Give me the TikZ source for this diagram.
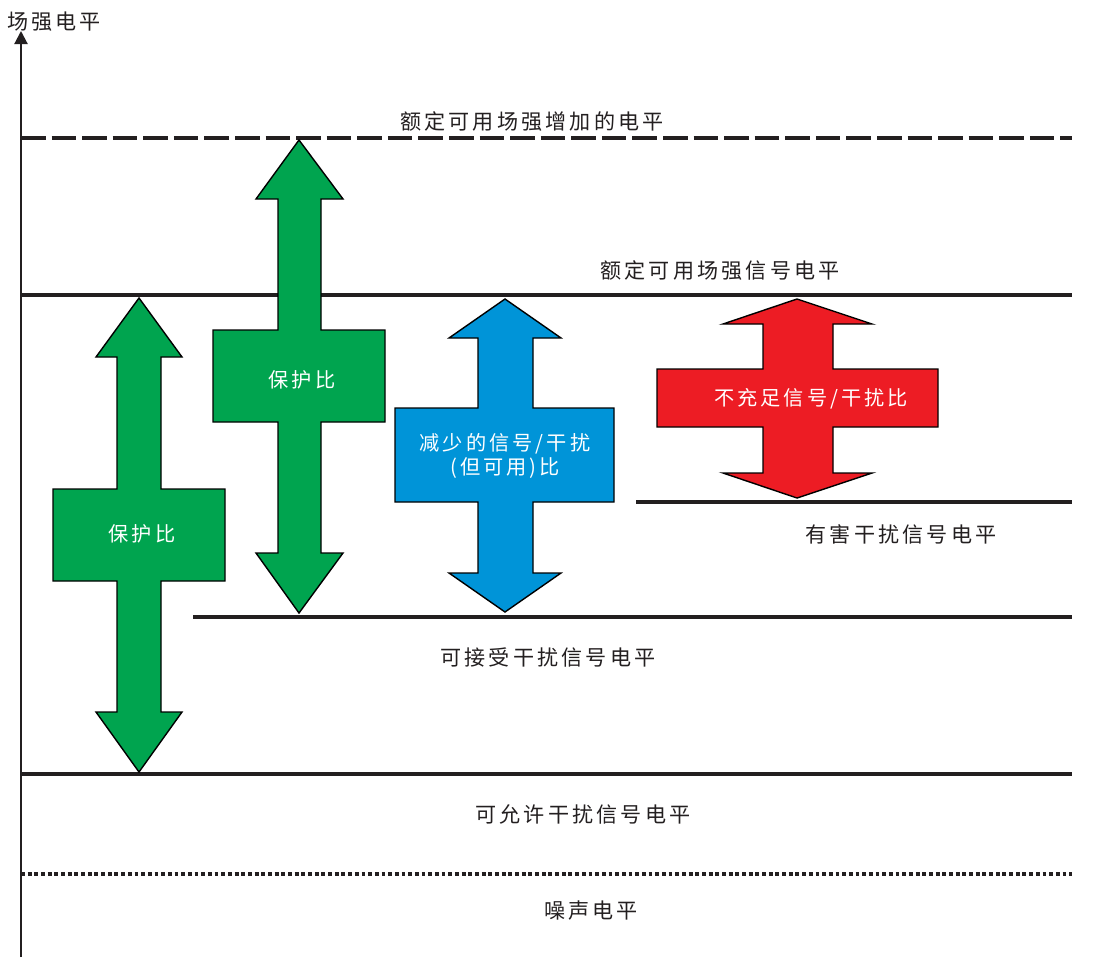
\documentclass[tikz,border=0pt]{standalone}
\usepackage{fontspec}
\newfontfamily\cjk[LetterSpace=15]{Noto Sans CJK SC}
\usepackage{xcolor}
\definecolor{protgreen}{RGB}{  0, 164,  79}
\definecolor{reducblue}{RGB}{  0, 148, 216}
\definecolor{lackred}{RGB}{237,  28,  36}
\definecolor{inkgray}{RGB}{ 35,  31,  32}
\usetikzlibrary{arrows.meta}

\begin{document}
\begin{tikzpicture}[x=0.02cm, y=-0.02cm]

  \tikzstyle{level} = [line width=2.3pt, color=inkgray]
  \tikzstyle{arrowbox} = [draw=black, line width=0.8pt, line join=miter]
  \tikzstyle{levellabel} = [font=\cjk\fontsize{12}{14}\selectfont, text=inkgray]
  \tikzstyle{boxlabel} = [font=\cjk\fontsize{11.5}{14}\selectfont, text=white, align=center]

  \useasboundingbox (0,0) rectangle (1118,957);

  % axis
  \coordinate (axbot) at (21,957);
  \coordinate (axtop) at (21,31);
  \draw[-{Triangle[width=7.5pt,length=7.5pt]}, line width=1.2pt, color=inkgray] (axbot) -- (axtop);
  \node[levellabel] (axtitle) at (54,22) {场强电平};

  % levels
  \draw[level, dash pattern=on 14pt off 3.4pt] (21,138) -- (1072,138);
  \draw[level] (21,295) -- (1072,295);
  \draw[level] (636,502) -- (1072,502);
  \draw[level] (193,617) -- (1072,617);
  \draw[level] (21,774) -- (1072,774);
  \draw[level, dash pattern=on 2.2pt off 1.6pt] (21,874) -- (1072,874);

  \node[levellabel] (lraise)  at (532,121) {额定可用场强增加的电平};
  \node[levellabel] (lsignal) at (720,270) {额定可用场强信号电平};
  \node[levellabel] (lharm)   at (901,534) {有害干扰信号电平};
  \node[levellabel] (laccept) at (548,657) {可接受干扰信号电平};
  \node[levellabel] (lallow)  at (583,814) {可允许干扰信号电平};
  \node[levellabel] (lnoise)  at (591,911) {噪声电平};

  % arrows
  \draw[arrowbox, fill=protgreen]
    (139,298) -- (182,357) -- (161,357) -- (161,489) -- (225,489) -- (225,581)
    -- (161,581) -- (161,712) -- (182,712) -- (139,772) -- (96,712) -- (117,712)
    -- (117,581) -- (53,581) -- (53,489) -- (117,489) -- (117,357) -- (96,357) -- cycle;
  \node[boxlabel] (prot1) at (142,534) {保护比};

  \draw[arrowbox, fill=protgreen]
    (299,140) -- (343,199) -- (321,199) -- (321,330) -- (385,330) -- (385,422)
    -- (321,422) -- (321,553) -- (343,553) -- (299,613) -- (256,553) -- (278,553)
    -- (278,422) -- (213,422) -- (213,330) -- (278,330) -- (278,199) -- (256,199) -- cycle;
  \node[boxlabel] (prot2) at (302,380) {保护比};

  \draw[arrowbox, fill=reducblue]
    (505,299) -- (561,338) -- (533,338) -- (533,408) -- (614,408) -- (614,502)
    -- (533,502) -- (533,573) -- (561,573) -- (505,612) -- (449,573) -- (478,573)
    -- (478,502) -- (395,502) -- (395,408) -- (478,408) -- (478,338) -- (449,338) -- cycle;
  \node[boxlabel] (reduced) at (505,456) {减少的信号/干扰\\(但可用)比};

  \draw[arrowbox, fill=lackred]
    (797,299) -- (872,324) -- (833,324) -- (833,369) -- (938,369) -- (938,427)
    -- (833,427) -- (833,473) -- (872,473) -- (797,498) -- (723,473) -- (763,473)
    -- (763,427) -- (657,427) -- (657,369) -- (763,369) -- (763,324) -- (723,324) -- cycle;
  \node[boxlabel] (lack) at (811,399) {不充足信号/干扰比};

\end{tikzpicture}
\end{document}
